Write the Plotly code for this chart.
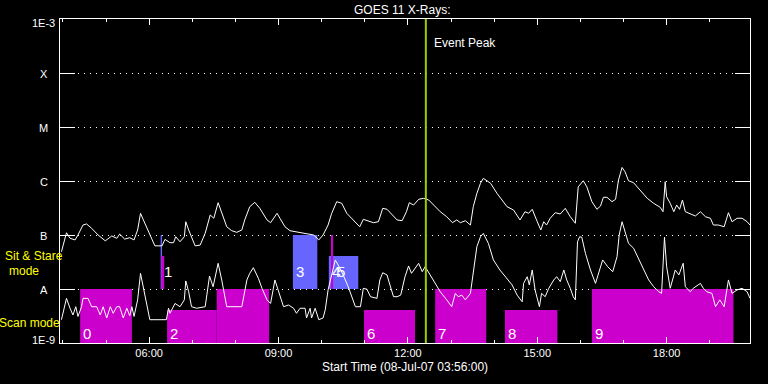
import numpy as np
import plotly.graph_objects as go

DAY = "2007-07-08 "

# GOES long channel (1-8 A), W/m^2
long_time = ["03:58","04:03","04:05","04:10","04:17","04:21","04:28","04:33","04:40","04:49",
             "04:59","05:08","05:15","05:19","05:26","05:33","05:39","05:44","05:48","05:52",
             "05:59","06:08","06:18","06:22","06:29","06:34","06:37","06:43","06:49","06:51",
             "06:55","06:59","07:04","07:11","07:18","07:25","07:30","07:36","07:41","07:48",
             "07:55","08:02","08:09","08:13","08:20","08:27","08:34","08:44","08:49","08:58",
             "09:02","09:09","09:16","09:35","09:49","09:56","10:02","10:09","10:14","10:21",
             "10:28","10:35","10:44","10:53","10:58","11:05","11:12","11:19","11:25","11:31",
             "11:38","11:45","11:52","11:58","12:02","12:08","12:15","12:22","12:29","12:36",
             "12:45","12:54","13:02","13:08","13:13","13:20","13:27","13:31","13:36","13:41",
             "13:45","13:55","14:04","14:18","14:27","14:36","14:43","14:48","14:53","15:00",
             "15:05","15:09","15:13","15:18","15:25","15:32","15:39","15:46","15:53","15:57",
             "16:04","16:09","16:16","16:23","16:28","16:32","16:37","16:44","16:49","16:53",
             "16:58","17:02","17:07","17:14","17:23","17:33","17:42","17:51","17:55","17:58",
             "18:00","18:05","18:10","18:14","18:18","18:22","18:26","18:33","18:40","18:47",
             "18:54","19:01","19:05","19:12","19:20","19:26","19:31","19:38","19:45","19:52","19:56"]
long_flux = [4.9e-8, 9.3e-8, 1.10e-7, 8.7e-8, 8.1e-8, 1.0e-7, 1.53e-7, 1.6e-7, 1.33e-7, 1.0e-7,
             7.8e-8, 9.6e-8, 8.7e-8, 1.04e-7, 8.4e-8, 8.9e-8, 8.1e-8, 1.24e-7, 2.52e-7, 1.9e-7,
             1.15e-7, 6.3e-8, 6.3e-8, 8.3e-8, 7.2e-8, 7.2e-8, 9.3e-8, 7.5e-8, 9.3e-8, 1.76e-7,
             1.24e-7, 9.1e-8, 6.3e-8, 6.5e-8, 1.08e-7, 2.35e-7, 2.04e-7, 3.97e-7, 2.52e-7, 1.42e-7,
             1.2e-7, 1.12e-7, 1.24e-7, 1.9e-7, 3.34e-7, 4.03e-7, 3.12e-7, 1.9e-7, 1.69e-7, 2.52e-7,
             2.04e-7, 1.42e-7, 1.2e-7, 1.08e-7, 1.0e-7, 8.1e-8, 1.0e-7, 1.53e-7, 2.52e-7, 4.14e-7,
             3.86e-7, 2.52e-7, 1.9e-7, 1.42e-7, 1.95e-7, 1.84e-7, 1.69e-7, 1.76e-7, 3.12e-7, 2.99e-7,
             2.35e-7, 1.9e-7, 1.84e-7, 2.7e-7, 3.97e-7, 3.59e-7, 4.58e-7, 4.78e-7, 4.45e-7, 3.59e-7,
             2.7e-7, 2.18e-7, 1.69e-7, 1.9e-7, 1.69e-7, 1.84e-7, 1.53e-7, 3.34e-7, 5.9e-7, 9.1e-7,
             1.12e-6, 9.1e-7, 5.9e-7, 3.34e-7, 2.9e-7, 1.9e-7, 2.7e-7, 2.52e-7, 2.99e-7, 1.76e-7,
             1.24e-7, 1.76e-7, 1.53e-7, 2.04e-7, 2.59e-7, 2.45e-7, 3.12e-7, 2.18e-7, 1.65e-7, 7.8e-7,
             1.01e-6, 7.8e-7, 4.14e-7, 2.99e-7, 3.44e-7, 4.99e-7, 4.99e-7, 4.14e-7, 4.58e-7, 1.04e-6,
             1.78e-6, 1.49e-6, 1.01e-6, 9.3e-7, 6.8e-7, 4.78e-7, 3.86e-7, 3.26e-7, 2.7e-7, 9.7e-7,
             5.1e-7, 3.86e-7, 2.7e-7, 3.59e-7, 2.99e-7, 4.45e-7, 2.7e-7, 2.45e-7, 2.25e-7, 2.7e-7,
             2.18e-7, 2.04e-7, 1.53e-7, 1.53e-7, 1.42e-7, 2.59e-7, 1.76e-7, 2.04e-7, 2.04e-7, 1.76e-7, 1.53e-7]

# GOES short channel (0.5-4 A), W/m^2
short_time = ["03:58","04:02","04:05","04:10","04:14","04:18","04:21","04:26","04:28","04:35",
              "04:40","04:47","04:52","04:56","05:01","05:06","05:10","05:15","05:19","05:24",
              "05:29","05:33","05:36","05:39","05:44","05:48","05:52","05:57","06:01","06:24",
              "06:27","06:29","06:36","06:43","06:49","06:51","06:55","06:59","07:06","07:18",
              "07:24","07:29","07:32","07:36","07:41","07:48","08:09","08:16","08:20","08:25",
              "08:32","08:37","08:44","08:49","08:55","09:00","09:07","09:14","09:21","09:25",
              "09:30","09:37","09:39","09:44","09:46","09:51","09:56","10:02","10:05","10:09",
              "10:14","10:19","10:23","10:30","10:37","10:42","10:47","10:54","10:58","11:03",
              "11:08","11:17","11:21","11:25","11:31","11:35","11:40","11:45","11:50","11:56",
              "12:01","12:05","12:10","12:15","12:20","12:24","12:31","12:38","12:45","12:54",
              "13:01","13:06","13:10","13:15","13:20","13:27","13:31","13:36","13:41","13:45",
              "13:52","13:59","14:08","14:18","14:25","14:32","14:39","14:41","14:46","14:49",
              "14:53","14:57","15:03","15:06","15:11","15:16","15:23","15:27","15:32","15:37",
              "15:41","15:46","15:50","15:53","15:56","15:59","16:02","16:07","16:14","16:21",
              "16:25","16:31","16:38","16:45","16:51","16:54","16:58","17:02","17:07","17:14",
              "17:21","17:28","17:35","17:42","17:49","17:53","17:57","18:00","18:05","18:12",
              "18:17","18:23","18:26","18:33","18:37","18:47","18:51","18:56","19:03","19:08",
              "19:14","19:20","19:26","19:31","19:38","19:45","19:52","19:56"]
short_flux = [2.7e-9, 4.7e-9, 6.7e-9, 4.4e-9, 3.3e-9, 4.7e-9, 3.1e-9, 4.7e-9, 6.7e-9, 6.7e-9,
              4.7e-9, 4.7e-9, 3.3e-9, 4.7e-9, 2.9e-9, 4.7e-9, 3.55e-9, 4.7e-9, 4.7e-9, 2.9e-9,
              4.4e-9, 3.2e-9, 4.7e-9, 3.1e-9, 6.3e-9, 1.95e-8, 1.1e-8, 4.7e-9, 2.7e-9, 2.7e-9,
              4.4e-9, 3.55e-9, 5.4e-9, 4.7e-9, 6.3e-9, 1.41e-8, 8.9e-9, 4.7e-9, 4.4e-9, 4.7e-9,
              1.74e-8, 1.1e-8, 1.69e-8, 2.99e-8, 1.47e-8, 4.7e-9, 4.7e-9, 1.47e-8, 1.95e-8, 2.48e-8,
              1.58e-8, 1.03e-8, 6.3e-9, 5.4e-9, 1.47e-8, 8.9e-9, 4.7e-9, 5.05e-9, 4.4e-9, 3.55e-9,
              4.4e-9, 4.4e-9, 2.9e-9, 4.4e-9, 2.9e-9, 4.4e-9, 2.7e-9, 2.9e-9, 4.1e-9, 9.6e-9,
              1.82e-8, 3.45e-8, 2.78e-8, 1.82e-8, 1.1e-8, 7.2e-9, 4.7e-9, 4.7e-9, 1.03e-8, 9.9e-9,
              7.2e-9, 6.7e-9, 1.47e-8, 2.0e-8, 1.82e-8, 1.19e-8, 7.2e-9, 7.2e-9, 7.7e-9, 1.69e-8,
              2.67e-8, 1.95e-8, 2.42e-8, 2.99e-8, 2.09e-8, 2.59e-8, 1.82e-8, 1.27e-8, 8.9e-9, 6.3e-9,
              4.7e-9, 8.3e-9, 7.2e-9, 7.7e-9, 6.3e-9, 8.3e-9, 1.95e-8, 6.1e-8, 9.3e-8, 1.07e-7,
              7.0e-8, 3.45e-8, 2.25e-8, 1.58e-8, 1.19e-8, 7.7e-9, 5.8e-9, 1.27e-8, 1.69e-8, 1.19e-8,
              2.25e-8, 9.6e-9, 4.7e-9, 8.3e-9, 7.2e-9, 1.03e-8, 1.47e-8, 1.69e-8, 1.37e-8, 2.25e-8,
              1.47e-8, 1.03e-8, 7.2e-9, 6.3e-9, 7.5e-8, 9.3e-8, 9.1e-8, 4.58e-8, 2.25e-8, 1.27e-8,
              1.95e-8, 3.45e-8, 2.59e-8, 2.09e-8, 3.97e-8, 1.0e-7, 1.76e-7, 1.15e-7, 7.0e-8, 5.7e-8,
              3.7e-8, 2.25e-8, 1.47e-8, 1.1e-8, 8.9e-9, 8.3e-9, 9.1e-8, 2.59e-8, 1.03e-8, 2.25e-8,
              1.82e-8, 2.99e-8, 1.1e-8, 8.9e-9, 1.03e-8, 1.27e-8, 1.03e-8, 8.9e-9, 8.3e-9, 4.7e-9,
              6.3e-9, 4.7e-9, 1.47e-8, 8.3e-9, 9.6e-9, 1.03e-8, 8.9e-9, 6.7e-9]

# Observation blocks (drawing order)
block_start = ["04:24","06:16","06:17","06:25","07:34","09:20","10:10","10:13","10:59","12:38","14:15","16:16"]
block_end   = ["05:36","06:18","06:21","07:34","08:47","09:54","10:51","10:16","12:10","13:49","15:28","19:33"]
block_low   = [1e-9, 1e-8, 1e-8, 1e-9, 1e-9, 1e-8, 1e-8, 1e-8, 1e-9, 1e-9, 1e-9, 1e-9]
block_high  = [1e-8, 1e-7, 4.1e-8, 4.1e-9, 1e-8, 1e-7, 4.1e-8, 1e-7, 4.1e-9, 1e-8, 4.1e-9, 1e-8]
block_kind  = ["m", "b", "m", "m", "m", "b", "b", "m", "m", "m", "m", "m"]

# Block numbers
label_text = ["0", "1", "2", "3", "4", "5", "6", "7", "8", "9"]
label_time = ["04:25","06:18","06:26","09:22","10:12","10:19","11:01","12:39","14:17","16:17"]
label_mode = ["scan","sit","scan","sit","sit","sit","scan","scan","scan","scan"]

event_peak = "12:25"

level_vals = [1e-9, 1e-8, 1e-7, 1e-6, 1e-5, 1e-4, 1e-3]
level_text = ["1E-9", "A", "B", "C", "M", "X", "1E-3"]

KIND_COLOR = {"m": "#CC00CC", "b": "#6666FF"}
FONT = "Liberation Sans"

fig = go.Figure()

for s, e, lo, hi, k in zip(block_start, block_end, block_low, block_high, block_kind):
    fig.add_trace(go.Scatter(
        x=[DAY + s, DAY + s, DAY + e, DAY + e, DAY + s],
        y=[lo, hi, hi, lo, lo],
        mode="lines", fill="toself", fillcolor=KIND_COLOR[k],
        line=dict(width=0, color=KIND_COLOR[k]), hoverinfo="skip"))

fig.add_trace(go.Scatter(x=[DAY + t for t in long_time], y=long_flux, mode="lines",
                         line=dict(color="white", width=1)))
fig.add_trace(go.Scatter(x=[DAY + t for t in short_time], y=short_flux, mode="lines",
                         line=dict(color="white", width=1)))

ann = []
for txt, t, m in zip(label_text, label_time, label_mode):
    yv = 1.53e-9 if m == "scan" else 2.15e-8
    ann.append(dict(x=DAY + t, y=np.log10(yv), xref="x", yref="y", text=txt, showarrow=False,
                    xanchor="left", yanchor="middle", font=dict(color="white", size=15, family=FONT)))

yshift = {"1E-3": -3.5, "1E-9": 3}
for v, txt in zip(level_vals, level_text):
    ann.append(dict(x=-0.0232, xref="paper", y=np.log10(v), yref="y", text=txt, showarrow=False,
                    xanchor="center", yanchor="middle", yshift=yshift.get(txt, -1),
                    font=dict(color="white", size=11, family=FONT)))

ann += [
    dict(x=-0.0377, y=0.2670, xref="paper", yref="paper", text="Sit & Stare", showarrow=False,
         xanchor="center", yanchor="middle", font=dict(color="#FFFF00", size=12, family=FONT)),
    dict(x=-0.0517, y=0.2207, xref="paper", yref="paper", text="mode", showarrow=False,
         xanchor="center", yanchor="middle", font=dict(color="#FFFF00", size=12, family=FONT)),
    dict(x=-0.0445, y=0.0602, xref="paper", yref="paper", text="Scan mode", showarrow=False,
         xanchor="center", yanchor="middle", font=dict(color="#FFFF00", size=12, family=FONT)),
    dict(x=0.495, y=1.0293, xref="paper", yref="paper", text="GOES 11 X-Rays:", showarrow=False,
         xanchor="center", yanchor="middle", font=dict(color="white", size=12, family=FONT)),
    dict(x=0.5, y=-0.0756, xref="paper", yref="paper", text="Start Time (08-Jul-07 03:56:00)",
         showarrow=False, xanchor="center", yanchor="middle",
         font=dict(color="white", size=12, family=FONT)),
    dict(x=DAY + "12:33", y=0.926, xref="x", yref="paper", text="Event Peak", showarrow=False,
         xanchor="left", yanchor="middle", font=dict(color="white", size=12, family=FONT)),
]

fig.add_shape(type="line", xref="x", yref="paper", x0=DAY + event_peak, x1=DAY + event_peak,
              y0=0, y1=1, line=dict(color="#99CC00", width=2))

fig.update_layout(
    width=768, height=384, margin=dict(l=60, r=18, t=19, b=41, pad=0),
    paper_bgcolor="black", plot_bgcolor="black", showlegend=False,
    annotations=ann,
    xaxis=dict(type="date", range=[DAY + "03:56", DAY + "19:56"], tickformat="%H:%M",
               tick0=DAY + "00:00", dtick=3 * 3600000, ticks="inside", ticklen=6,
               tickcolor="white", tickwidth=1, showline=True, linecolor="white", linewidth=1,
               mirror="allticks", showgrid=False, zeroline=False,
               tickfont=dict(color="white", size=11, family=FONT),
               minor=dict(tick0=DAY + "00:00", dtick=3600000, ticks="inside", ticklen=3,
                          tickcolor="white", tickwidth=1, showgrid=False)),
    yaxis=dict(type="log", range=[-9, -3], tickvals=level_vals, ticks="inside", ticklen=15,
               tickcolor="white", showticklabels=False, showgrid=True, gridcolor="white",
               gridwidth=1, griddash="1px,5px", showline=True, linecolor="white", linewidth=1,
               mirror="allticks", zeroline=False),
)

fig.write_html("out.html", config={"displayModeBar": False},
               post_script="document.body.style.margin='0';document.body.style.background='black';")
